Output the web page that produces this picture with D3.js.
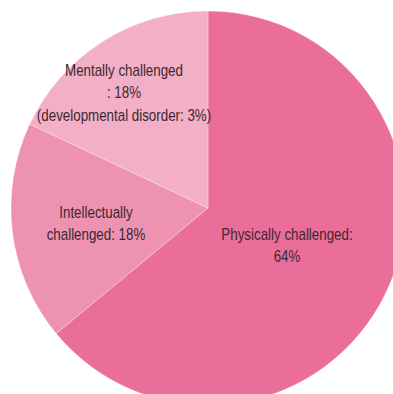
<!DOCTYPE html>
<html>
<head>
<meta charset="utf-8">
<script src="https://cdn.jsdelivr.net/npm/d3@7/dist/d3.min.js"></script>
<style>
  html, body { margin: 0; padding: 0; background: #ffffff; overflow: hidden; }
  svg { display: block; }
  text { font-family: "Liberation Sans", Arial, sans-serif; }
</style>
</head>
<body>
<svg id="chart" width="393" height="394"></svg>
<script>
// Share of registered disabilities by type (percent)
const categories = ["Physically challenged", "Intellectually challenged", "Mentally challenged"];
const shares = [64, 18, 18];
const sliceColors = ["#eb6e9a", "#ee92b1", "#f3afc6"];
const labelLines = [
  ["Physically challenged:", "64%"],
  ["Intellectually", "challenged: 18%"],
  ["Mentally challenged", ": 18%", "(developmental disorder: 3%)"]
];

// Layout
const width = 393, height = 394;
const cx = 208, cy = 208, radius = 197;
const labelAnchors = [[287, 240], [96, 218], [124, 76]];
const lineHeight = 22.5;
const condense = 0.835;   // narrow the type horizontally

const svg = d3.select("#chart");
const g = svg.append("g").attr("transform", `translate(${cx},${cy})`);

const pie = d3.pie().sort(null).value(d => d.value);
const arc = d3.arc().innerRadius(0).outerRadius(radius);

const data = categories.map((c, i) => ({ name: c, value: shares[i], color: sliceColors[i] }));

g.selectAll("path.slice")
  .data(pie(data))
  .join("path")
  .attr("class", "slice")
  .attr("d", arc)
  .attr("fill", d => d.data.color)
  .attr("stroke", "#ffffff")
  .attr("stroke-opacity", 0.35)
  .attr("stroke-width", 0.8);

const labels = svg.append("g");
labelLines.forEach((lines, i) => {
  const t = labels.append("text")
    .attr("transform", `translate(${labelAnchors[i][0]},${labelAnchors[i][1]}) scale(${condense},1)`)
    .attr("text-anchor", "middle")
    .attr("font-size", 16)
    .attr("fill", "#3a2830");
  lines.forEach((ln, j) => {
    t.append("tspan")
      .attr("x", 0)
      .attr("dy", j === 0 ? 0 : lineHeight)
      .text(ln);
  });
});
</script>
</body>
</html>
